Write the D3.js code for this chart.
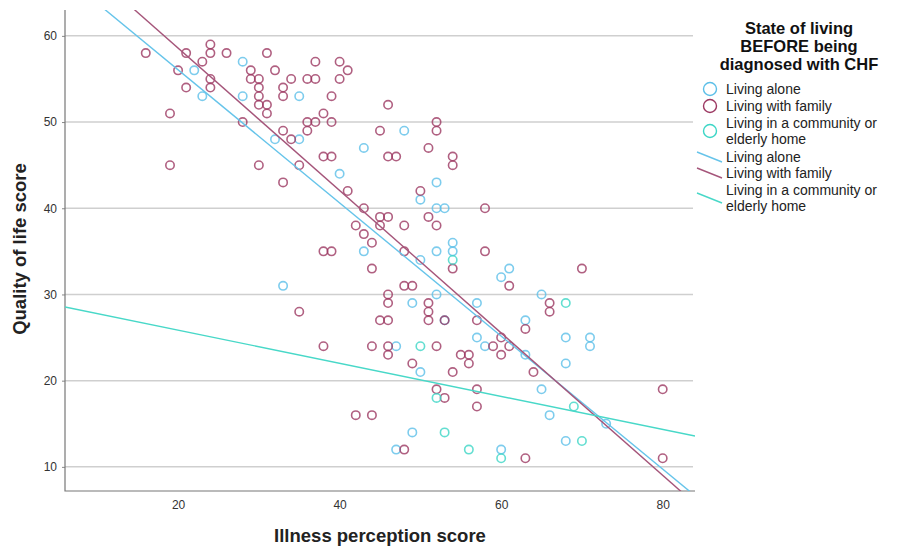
<!DOCTYPE html>
<meta charset="utf-8">
<style>
body{
  margin: 0;
  background: #fff;
}
svg{
  display: block;
  font-family: "Liberation Sans", Arial, sans-serif;
}
</style>

<svg width="901" height="548"></svg>
<script src="https://d3js.org/d3.v7.min.js"></script>
<script>

// points, [illness perception, quality of life]
var livingAlone = [
  [22,56],[28,57],[23,53],[28,53],[32,48],[35,53],[35,48],[43,47],[48,49],[40,44],
  [52,43],[50,41],[52,40],[53,40],[54,36],[43,35],[52,35],[54,35],[50,34],[33,31],
  [52,30],[49,29],[57,29],[53,27],[47,24],[57,25],[50,21],[49,14],[47,12],[61,33],
  [60,32],[65,30],[63,27],[58,24],[68,25],[71,25],[71,24],[63,23],[68,22],[65,19],
  [66,16],[73,15],[68,13],[60,12]
];

var livingFamily = [
  [16,58],[21,58],[24,59],[24,58],[26,58],[31,58],[23,57],[20,56],[29,56],[32,56],
  [29,55],[30,55],[24,55],[21,54],[24,54],[30,54],[30,53],[30,52],[31,52],[31,51],
  [19,51],[28,50],[19,45],[30,45],[37,57],[40,57],[41,56],[34,55],[36,55],[37,55],
  [40,55],[33,54],[33,53],[39,53],[38,51],[46,52],[36,50],[37,50],[39,50],[52,50],
  [52,49],[45,49],[33,49],[36,49],[34,48],[51,47],[38,46],[39,46],[46,46],[47,46],
  [54,46],[54,45],[35,45],[33,43],[41,42],[50,42],[43,40],[45,39],[46,39],[51,39],
  [42,38],[45,38],[48,38],[52,38],[43,37],[44,36],[38,35],[39,35],[48,35],[54,33],
  [44,33],[48,31],[49,31],[46,30],[46,29],[51,29],[51,28],[35,28],[45,27],[46,27],
  [51,27],[53,27],[57,27],[38,24],[44,24],[46,24],[52,24],[46,23],[49,22],[54,21],
  [55,23],[56,23],[56,22],[52,19],[53,18],[57,19],[57,17],[42,16],[44,16],[48,12],
  [58,40],[58,35],[61,31],[70,33],[66,29],[66,28],[63,26],[60,25],[59,24],[61,24],
  [60,23],[64,21],[80,19],[63,11],[80,11]
];

var livingCommunity = [
  [54,34],[50,24],[52,18],[53,14],[56,12],[60,11],[69,17],[70,13],[68,29]
];

// fit lines as drawn in the picture: [intercept, slope]
var fitAlone = [71.5, -0.772];
var fitFamily = [75.1, -0.826];
var fitCommunity = [29.7, -0.192];

var xTicks = [20, 40, 60, 80];
var yTicks = [10, 20, 30, 40, 50, 60];

var groupNames = ["Living alone", "Living with family", "Living in a community or|elderly home"];
var colors = ["#5cbfe8", "#9c3862", "#3cd6c6"];
var lineColors = ["#66c4ea", "#a5557a", "#48d8c8"];

var svg = d3.select("svg");

var x = d3.scaleLinear().domain([6, 84]).range([65, 695]);
var y = d3.scaleLinear().domain([7.2, 63]).range([491, 10]);

// gridlines
svg.append("g")
  .selectAll("line")
  .data(yTicks)
  .enter().append("line")
    .attr("x1", 65)
    .attr("x2", 693)
    .attr("y1", d => y(d))
    .attr("y2", d => y(d))
    .attr("stroke", "#cfcfcf")
    .attr("stroke-width", 1.5);

// axes
var yAxis = svg.append("g")
  .attr("transform", "translate(65,0)")
  .call(d3.axisLeft(y).tickValues(yTicks).tickSize(3).tickPadding(5));
var xAxis = svg.append("g")
  .attr("transform", "translate(0,491)")
  .call(d3.axisBottom(x).tickValues(xTicks).tickSize(0).tickPadding(9));

[xAxis, yAxis].forEach(function(a) {
  a.select(".domain").remove();
  a.selectAll("line").attr("stroke", "#888");
  a.selectAll("text")
    .attr("font-family", "'Liberation Sans Narrow', 'Liberation Sans', sans-serif")
    .attr("font-size", 12)
    .attr("fill", "#333");
});

svg.append("path")
  .attr("d", "M65,10V491H695")
  .attr("fill", "none")
  .attr("stroke", "#777")
  .attr("stroke-width", 1.2);

// points
var groups = [livingAlone, livingFamily, livingCommunity];
groups.forEach(function(pts, i) {
  svg.append("g")
    .selectAll("circle")
    .data(pts)
    .enter().append("circle")
      .attr("cx", d => x(d[0]))
      .attr("cy", d => y(d[1]))
      .attr("r", 4.2)
      .attr("fill", "none")
      .attr("stroke", colors[i])
      .attr("stroke-width", 1.6)
      .attr("stroke-opacity", 0.8);
});

// fit lines, clipped to the plot
svg.append("defs").append("clipPath")
  .attr("id", "plotclip")
  .append("rect")
    .attr("x", 65).attr("y", 10)
    .attr("width", 630).attr("height", 481);

var fits = [fitAlone, fitFamily, fitCommunity];
svg.append("g")
  .attr("clip-path", "url(#plotclip)")
  .selectAll("line")
  .data(fits)
  .enter().append("line")
    .attr("x1", x(6))
    .attr("x2", x(84))
    .attr("y1", d => y(d[0] + d[1] * 6))
    .attr("y2", d => y(d[0] + d[1] * 84))
    .attr("stroke", (d, i) => lineColors[i])
    .attr("stroke-width", 1.4);

// axis titles
svg.append("text")
  .attr("x", 380)
  .attr("y", 542)
  .attr("text-anchor", "middle")
  .attr("font-size", 18.5)
  .attr("font-weight", "bold")
  .attr("fill", "#222")
  .text("Illness perception score");

svg.append("text")
  .attr("transform", "translate(26,249) rotate(-90)")
  .attr("text-anchor", "middle")
  .attr("font-size", 18.5)
  .attr("font-weight", "bold")
  .attr("fill", "#222")
  .text("Quality of life score");

// legend
var legend = svg.append("g");
["State of living", "BEFORE being", "diagnosed with CHF"].forEach(function(t, i) {
  legend.append("text")
    .attr("x", 799)
    .attr("y", 34 + i * 18)
    .attr("text-anchor", "middle")
    .attr("font-size", 16.5)
    .attr("font-weight", "bold")
    .attr("fill", "#111")
    .text(t);
});

var itemY = [[89], [106], [123, 139]];
var lineItemY = [[157], [173], [190, 206]];

groupNames.forEach(function(name, i) {
  var parts = name.split("|");
  var ys = itemY[i];
  var cy = d3.mean(ys);
  legend.append("circle")
    .attr("cx", 710)
    .attr("cy", cy)
    .attr("r", 6.5)
    .attr("fill", "none")
    .attr("stroke", colors[i])
    .attr("stroke-width", 1.4);
  parts.forEach(function(p, j) {
    legend.append("text")
      .attr("x", 726)
      .attr("y", ys[j])
      .attr("dy", "0.35em")
      .attr("font-size", 14)
      .attr("fill", "#222")
      .text(p);
  });

  var lys = lineItemY[i];
  var ly = d3.mean(lys);
  legend.append("line")
    .attr("x1", 697).attr("y1", ly - 5)
    .attr("x2", 722).attr("y2", ly + 5)
    .attr("stroke", lineColors[i])
    .attr("stroke-width", 1.4);
  parts.forEach(function(p, j) {
    legend.append("text")
      .attr("x", 726)
      .attr("y", lys[j])
      .attr("dy", "0.35em")
      .attr("font-size", 14)
      .attr("fill", "#222")
      .text(p);
  });
});

</script>
